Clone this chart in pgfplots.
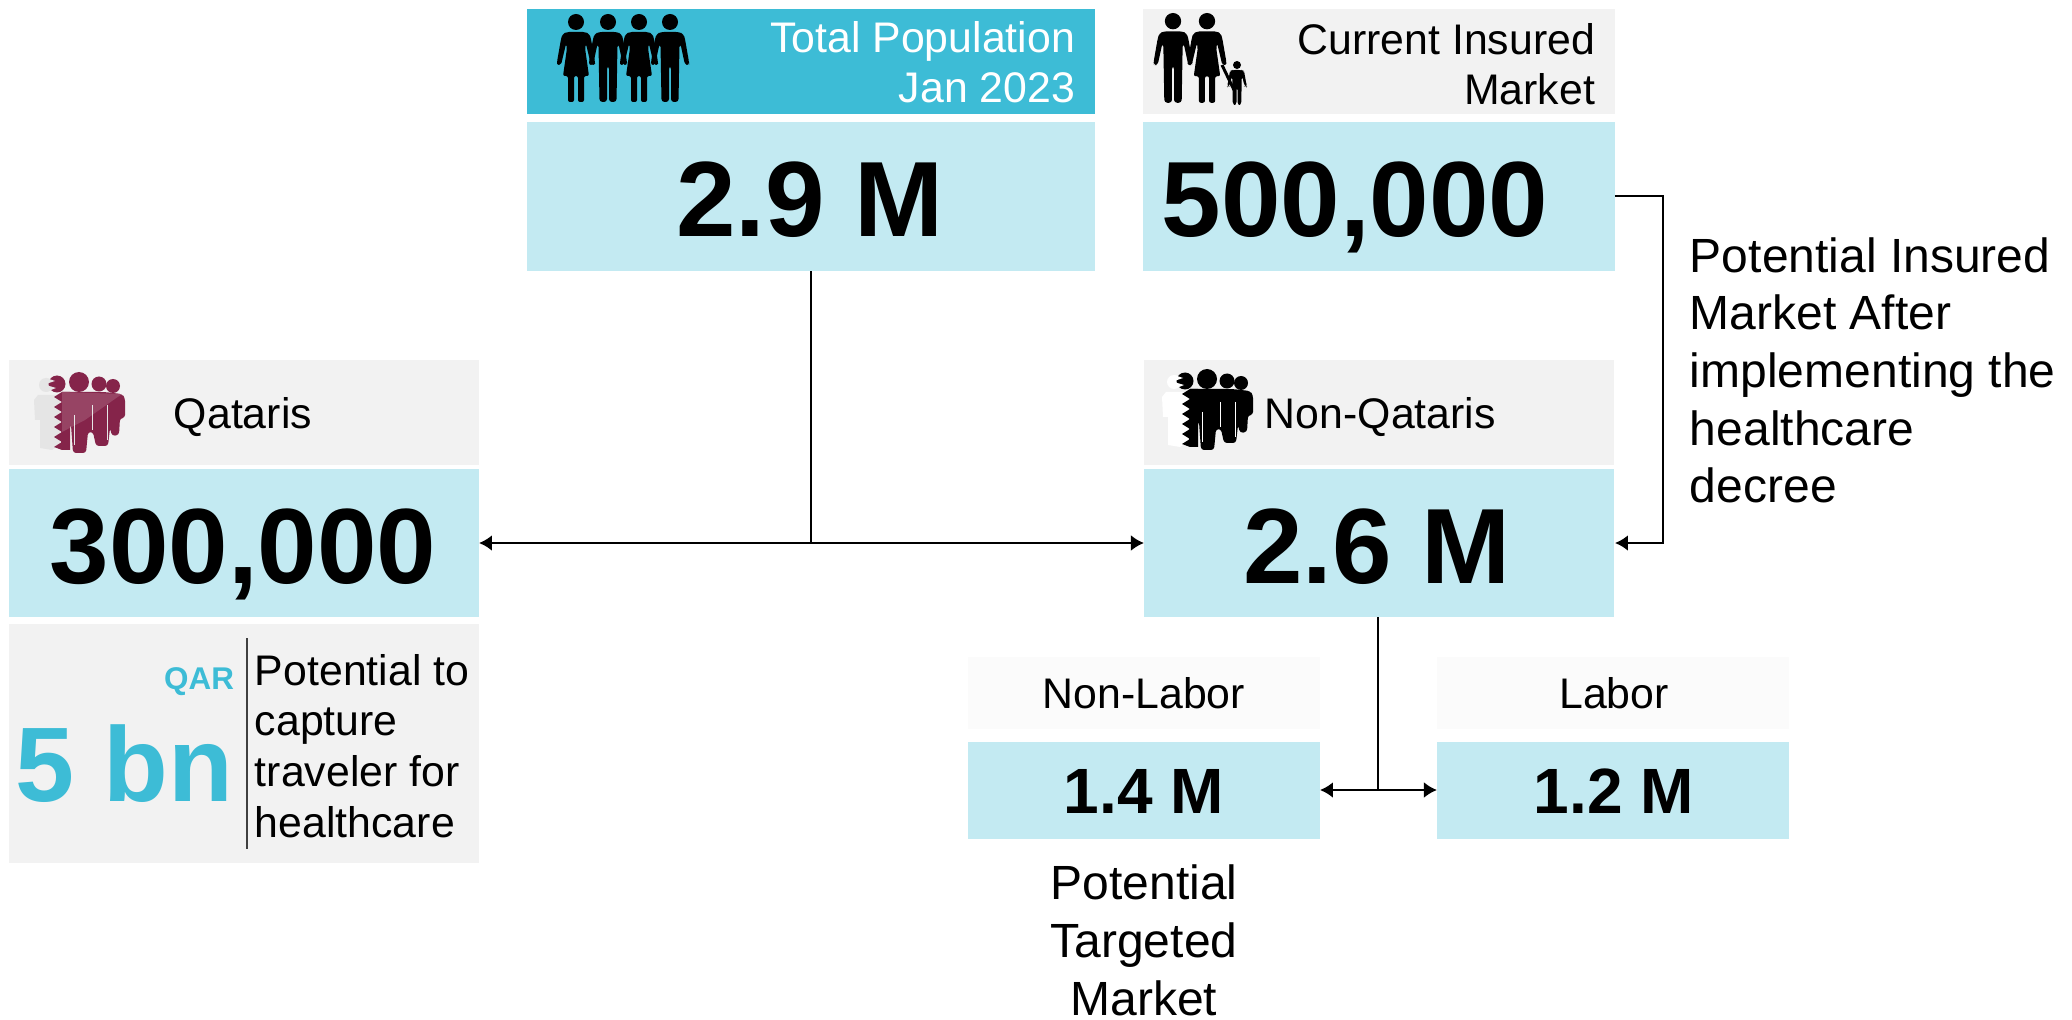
\documentclass[border=0pt]{standalone}
\usepackage{fontspec}
\setmainfont{Liberation Sans}
\usepackage{pgfplots}
\pgfplotsset{compat=1.18}
\usetikzlibrary{arrows.meta}
\definecolor{teal}{HTML}{3DBCD6}
\definecolor{pale}{HTML}{C3EAF2}
\definecolor{grey}{HTML}{F2F2F2}
\definecolor{faint}{HTML}{FBFBFB}
\definecolor{maroon}{HTML}{85244A}
\tikzset{n/.style={inner sep=0pt,outer sep=0pt},
  >={Latex[length=6.5pt,width=8pt]}}
\newcommand{\fs}[1]{\fontsize{#1}{#1}\selectfont}
% box: x0 y0 x1 y1 colour
\newcommand{\boxp}[5]{\addplot[draw=none,fill=#5,mark=none,forget plot] coordinates {(#1,#2)(#3,#2)(#3,#4)(#1,#4)} --cycle;}
\newcommand{\personM}[4]{\begin{scope}[shift={(#1,#2)},scale=#3]
 \fill[#4] (0,8) circle (8);
 \fill[#4,rounded corners=1.5] (-9,18)--(9,18)--(13.5,20)--(15,25)--(19,48)--(19,51)--(15,51)--(10.5,30)--(9.5,30)--(8.5,88)--(1,88)--(1,52)--(-1,52)--(-1,88)--(-8.5,88)--(-9.5,30)--(-10.5,30)--(-15,51)--(-19,51)--(-19,48)--(-15,25)--(-13.5,20)--cycle;
\end{scope}}
\newcommand{\personF}[4]{\begin{scope}[shift={(#1,#2)},scale=#3]
 \fill[#4] (0,8) circle (8);
 \fill[#4,rounded corners=1] (-9,18)--(9,18)--(13.5,20)--(15,25)--(19,48)--(19,51)--(15,51)--(10,30)--(9,34)--(13,62)--(8,62)--(8,88)--(2,88)--(2,62)--(-2,62)--(-2,88)--(-8,88)--(-8,62)--(-13,62)--(-9,34)--(-10,30)--(-15,51)--(-19,51)--(-19,48)--(-15,25)--(-13.5,20)--cycle;
\end{scope}}
% group icon: dx dy dark light
\newcommand{\group}[4]{\begin{scope}[shift={(#1,#2)}]
 \fill[#4] (46,385) circle (7);
 \fill[#4] (38,395)--(60,395)--(60,445)--(52,450)--(40,448)--(40,420)--(35,420)--(34,400)--cycle;
 \fill[#3] (57,384) circle (8.5);
 \fill[#4] (46,378)--(55,381)--(46,384)--cycle;
 \fill[#4] (46,385)--(56,388)--(46,392)--cycle;
 \fill[#3] (79,382) circle (10);
 \fill[#3] (99,384) circle (7.5);
 \fill[#3] (113,386) circle (7);
 \fill[#3,rounded corners=1.5] (62,392)--(104,392)--(122,394)--(125,398)--(125,418)--(120,418)--(119,435)--(112,436)--(110,428)--(108,446)--(96,446)--(93,432)--(88,432)--(86,453)--(73,453)--(71,425)--(66,425)--(66,449)--(61,449);
 \fill[#3] (62,392)--(54,397)--(62,402)--(54,407)--(62,412)--(54,417)--(62,422)--(54,427)--(62,432)--(54,437)--(62,442)--(54,447)--(62,450)--(70,450)--(70,392)--cycle;
 \draw[#4,line width=.4pt] (74,415)--(74,445);
 \draw[#4,line width=.4pt] (92,405)--(92,430);
 \draw[#4,line width=.4pt] (107,405)--(107,440);
\end{scope}}
\begin{document}
\begin{tikzpicture}
\begin{axis}[
  scale only axis, width=1036pt, height=509.5pt,
  xmin=0, xmax=2072, ymin=0, ymax=1019, y dir=reverse,
  hide axis, clip=false]
\boxp{527}{9}{1095}{114}{teal}
\boxp{527}{122}{1095}{271}{pale}
\boxp{1143}{9}{1615}{114}{grey}
\boxp{1143}{122}{1615}{271}{pale}
\boxp{9}{360}{479}{465}{grey}
\boxp{9}{469}{479}{617}{pale}
\boxp{9}{624}{479}{863}{grey}
\boxp{1144}{360}{1614}{465}{grey}
\boxp{1144}{469}{1614}{617}{pale}
\boxp{968}{657}{1320}{729}{faint}
\boxp{968}{742}{1320}{839}{pale}
\boxp{1437}{657}{1789}{729}{faint}
\boxp{1437}{742}{1789}{839}{pale}
% connectors
\addplot[black,line width=1.4pt,mark=none,forget plot] coordinates {(811,271)(811,543)};
\addplot[black,line width=1.4pt,mark=none,forget plot,<->] coordinates {(479,543)(1144,543)};
\addplot[black,line width=1.4pt,mark=none,forget plot,->] coordinates {(1615,196)(1663,196)(1663,543)(1615,543)};
\addplot[black,line width=1.4pt,mark=none,forget plot] coordinates {(1378,617)(1378,790)};
\addplot[black,line width=1.4pt,mark=none,forget plot,<->] coordinates {(1320,790)(1437,790)};
\addplot[black!75,line width=.75pt,mark=none,forget plot] coordinates {(247,638)(247,849)};
% text
\node[n,anchor=base east,text=white] at (axis cs:1075,52) {\fs{21.4}Total Population};
\node[n,anchor=base east,text=white] at (axis cs:1075,102) {\fs{21.4}Jan 2023};
\node[n,anchor=base] at (axis cs:810,236) {\fs{53.5}\bfseries 2.9 M};
\node[n,anchor=base east] at (axis cs:1595,54) {\fs{21.4}Current Insured};
\node[n,anchor=base east] at (axis cs:1595,104) {\fs{21.4}Market};
\node[n,anchor=base] at (axis cs:1355,236) {\fs{53.5}\bfseries 500,000};
\node[n,anchor=base west] at (axis cs:174,428) {\fs{21.4}Qataris};
\node[n,anchor=base] at (axis cs:243,583) {\fs{53.5}\bfseries 300,000};
\node[n,anchor=base west] at (axis cs:1265,428) {\fs{21.4}Non-Qataris};
\node[n,anchor=base] at (axis cs:1377,583) {\fs{53.5}\bfseries 2.6 M};
\node[n,anchor=base east,text=teal] at (axis cs:234,689) {\fs{15.7}\bfseries QAR};
\node[n,anchor=base east,text=teal] at (axis cs:233,801) {\fs{53}\bfseries 5 bn};
\node[n,anchor=base west] at (axis cs:255,685) {\fs{21.4}Potential to};
\node[n,anchor=base west] at (axis cs:255,735) {\fs{21.4}capture};
\node[n,anchor=base west] at (axis cs:255,786) {\fs{21.4}traveler for};
\node[n,anchor=base west] at (axis cs:255,837) {\fs{21.4}healthcare};
\node[n,anchor=base] at (axis cs:1144,708) {\fs{21.4}Non-Labor};
\node[n,anchor=base] at (axis cs:1614,708) {\fs{21.4}Labor};
\node[n,anchor=base] at (axis cs:1144,813) {\fs{32}\bfseries 1.4 M};
\node[n,anchor=base] at (axis cs:1614,813) {\fs{32}\bfseries 1.2 M};
\node[n,anchor=base] at (axis cs:1144,899) {\fs{24}Potential};
\node[n,anchor=base] at (axis cs:1144,957) {\fs{24}Targeted};
\node[n,anchor=base] at (axis cs:1144,1015) {\fs{24}Market};
\node[n,anchor=base west] at (axis cs:1690,272) {\fs{24}Potential Insured};
\node[n,anchor=base west] at (axis cs:1690,329.5) {\fs{24}Market After};
\node[n,anchor=base west] at (axis cs:1690,387) {\fs{24}implementing the};
\node[n,anchor=base west] at (axis cs:1690,445) {\fs{24}healthcare};
\node[n,anchor=base west] at (axis cs:1690,502) {\fs{24}decree};
\end{axis}
% icons (pixel coordinates)
\begin{scope}[x=.5pt,y=-.5pt,yshift=509.5pt]
\personF{576}{14}{1}{black}
\personM{608}{14}{1}{black}
\personF{639}{14}{1}{black}
\personM{670}{14}{1}{black}
\personM{1173}{13}{1.02}{black}
\personF{1207}{13}{1.02}{black}
\personM{1237}{61}{.5}{black}
\draw[black,line width=1.5pt] (1222,65)--(1234,90);
\group{0}{0}{maroon}{black!10}
\fill[white,opacity=.15] (62,392)--(122,394)--(85,420)--(62,432)--cycle;
\group{1128}{-3}{black}{white}
\end{scope}
\pgfresetboundingbox
\path[use as bounding box] (0,0) rectangle (1036pt,509.5pt);
\end{tikzpicture}
\end{document}
